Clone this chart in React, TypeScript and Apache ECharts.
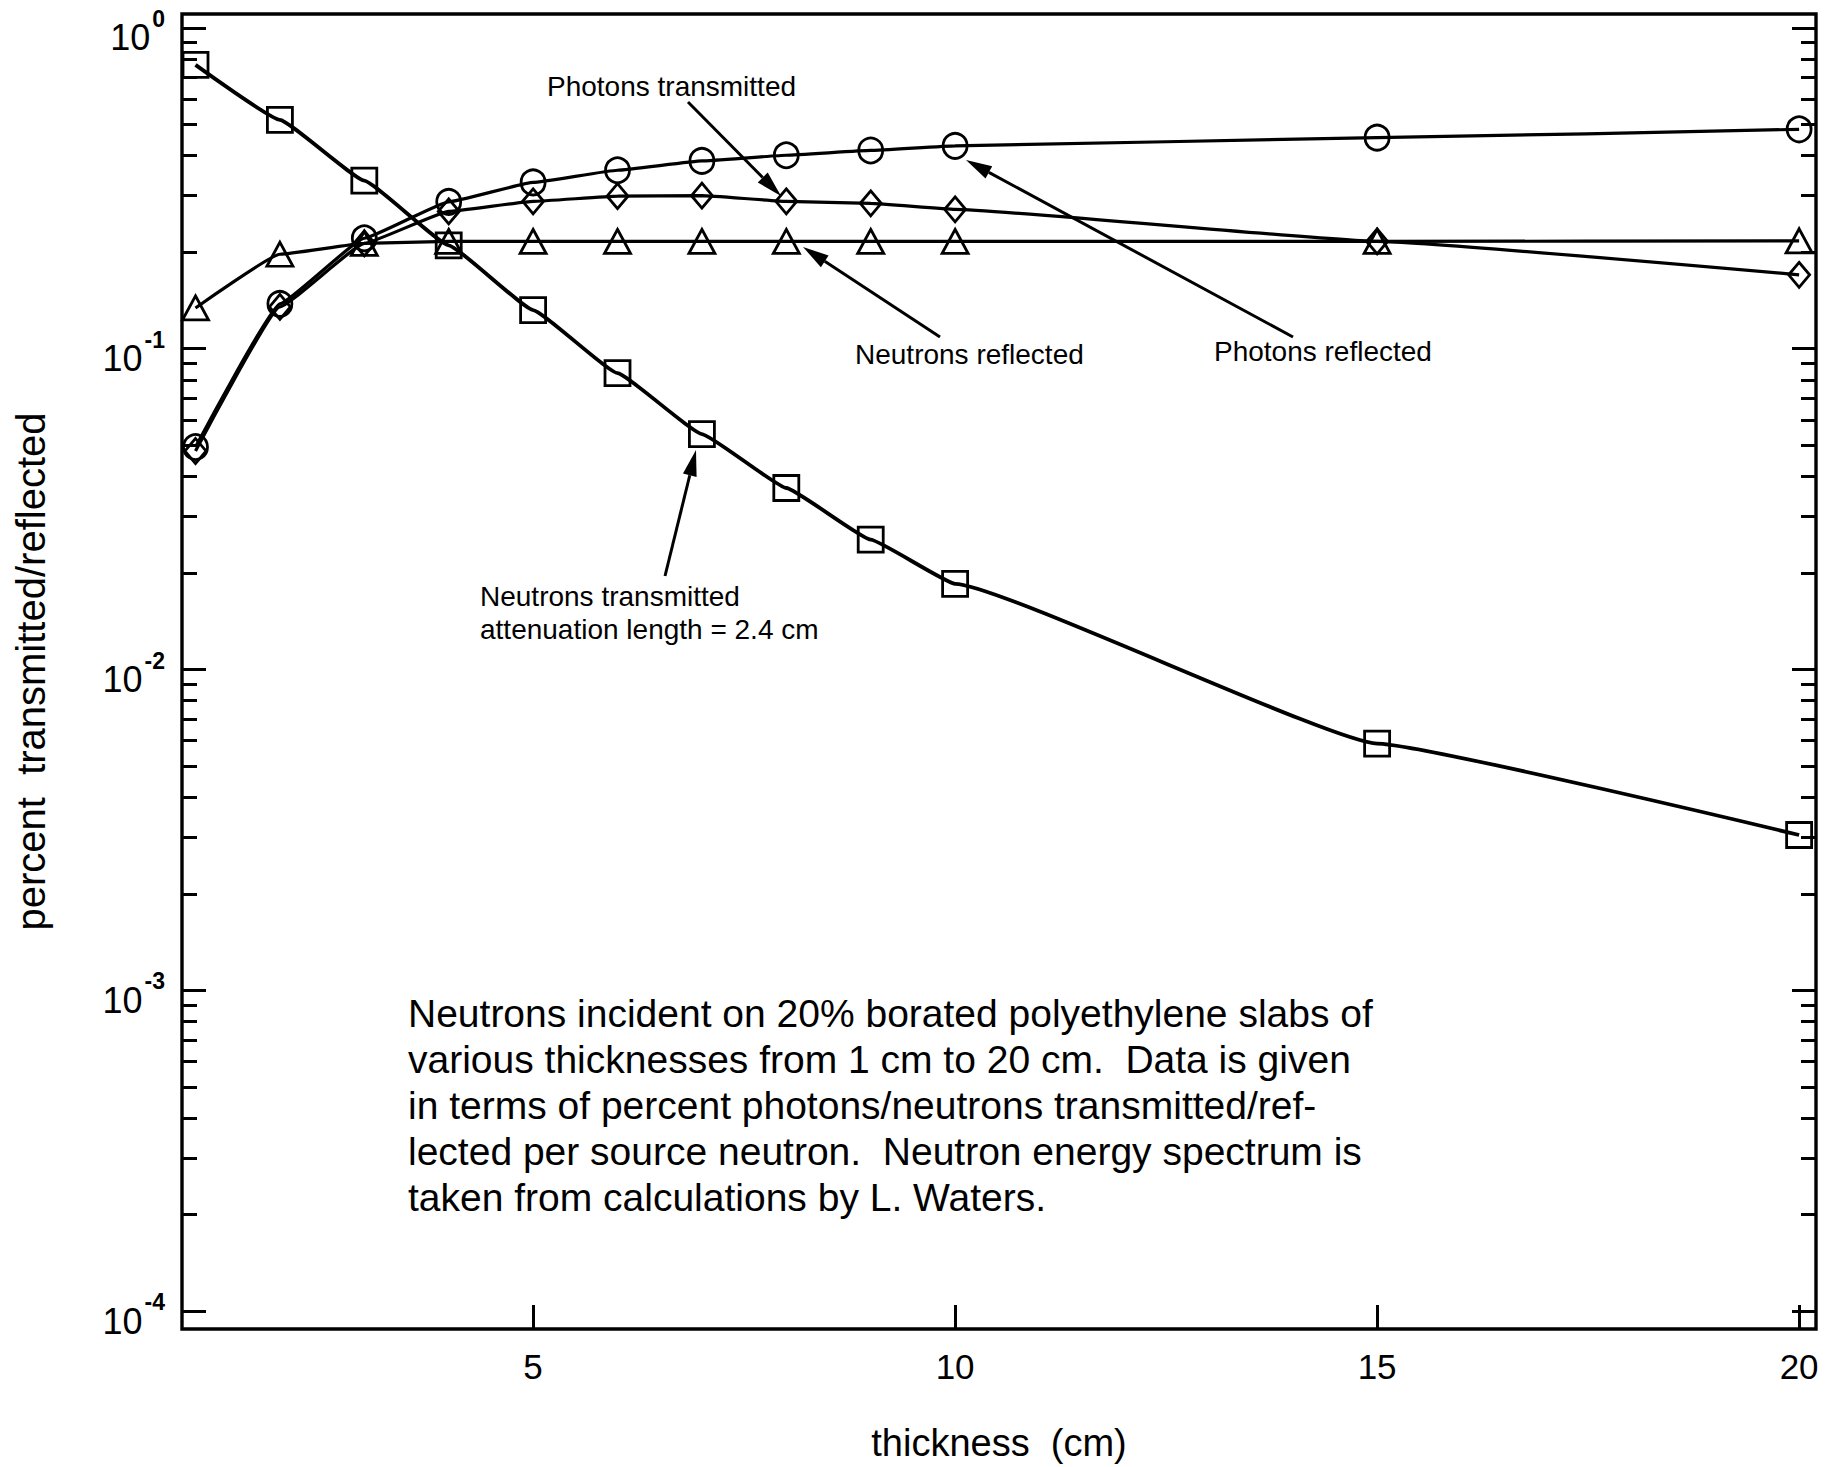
import { useEffect, useRef } from 'react';
import * as echarts from 'echarts';

// ---- data ----
const thickness = [1, 2, 3, 4, 5, 6, 7, 8, 9, 10, 15, 20];
const neutronsTransmitted = [0.767, 0.517, 0.334, 0.21, 0.132, 0.0839, 0.0542, 0.0368, 0.0254, 0.0185, 0.00588, 0.00305];
const photonsReflected = [0.0494, 0.138, 0.221, 0.287, 0.33, 0.36, 0.385, 0.401, 0.415, 0.429, 0.455, 0.483];
const photonsTransmitted = [0.048, 0.135, 0.213, 0.268, 0.288, 0.299, 0.3, 0.288, 0.284, 0.272, 0.216, 0.17];
const neutronsReflected = [0.134, 0.197, 0.213, 0.216, 0.216, 0.216, 0.216, 0.216, 0.216, 0.216, 0.216, 0.217];

const xTickValues = [5, 10, 15, 20];
const yMajorTicks = [1e-4, 1e-3, 1e-2, 1e-1, 1];
const yMinorMultipliers = [2, 3, 4, 5, 6, 7, 8, 9];
const yMinorDecades = [1e-4, 1e-3, 1e-2, 1e-1];

const xTitle = 'thickness  (cm)';
const yTitle = 'percent  transmitted/reflected';
const noteLines = [
  'Neutrons incident on 20% borated polyethylene slabs of',
  'various thicknesses from 1 cm to 20 cm.  Data is given',
  'in terms of percent photons/neutrons transmitted/ref-',
  'lected per source neutron.  Neutron energy spectrum is',
  'taken from calculations by L. Waters.',
];

// ---- layout ----
const FONT = '"Liberation Sans", Arial, Helvetica, sans-serif';
const X_MIN = 0.84;
const X_MAX = 20.2;
const Y_MIN = 8.8e-5;
const Y_MAX = 1.105;

const annotations = [
  { lines: ['Photons transmitted'], x: 547, y: 86, tail: [688, 102], tip: [781, 196] },
  { lines: ['Neutrons reflected'], x: 855, y: 354, tail: [940, 337], tip: [803, 247] },
  { lines: ['Photons reflected'], x: 1214, y: 351, tail: [1293, 337], tip: [966, 160] },
  { lines: ['Neutrons transmitted', 'attenuation length = 2.4 cm'], x: 480, y: 596, tail: [665, 576], tip: [696, 450] },
];

function arrow(tail: number[], tip: number[]) {
  const headLen = 26;
  const headHalf = 7;
  const dx = tip[0] - tail[0];
  const dy = tip[1] - tail[1];
  const L = Math.hypot(dx, dy);
  const ux = dx / L;
  const uy = dy / L;
  const bx = tip[0] - ux * headLen;
  const by = tip[1] - uy * headLen;
  const px = -uy;
  const py = ux;
  return [
    { type: 'line', shape: { x1: tail[0], y1: tail[1], x2: bx, y2: by }, style: { stroke: '#000', lineWidth: 3 } },
    {
      type: 'polygon',
      shape: { points: [[tip[0], tip[1]], [bx + px * headHalf, by + py * headHalf], [bx - px * headHalf, by - py * headHalf]] },
      style: { fill: '#000' },
    },
  ];
}

export default function App() {
  const ref = useRef<HTMLDivElement>(null);
  useEffect(() => {
    if (!ref.current) return;
    const chart = echarts.init(ref.current, undefined, { renderer: 'svg' });

    const yMinorTicks: number[] = [];
    yMinorDecades.forEach((d) => yMinorMultipliers.forEach((m) => yMinorTicks.push(+(m * d).toPrecision(3))));

    const tickLine = { color: '#000', width: 3 };
    const mkY = (position: string, major: boolean, withLabels: boolean) => ({
      type: 'log',
      logBase: 10,
      min: Y_MIN,
      max: Y_MAX,
      position,
      axisLine: { show: false },
      splitLine: { show: false },
      minorTick: { show: false },
      axisTick: {
        show: true,
        inside: true,
        length: major ? 24 : 15,
        lineStyle: tickLine,
        customValues: major ? yMajorTicks : yMinorTicks,
      },
      axisLabel: withLabels
        ? {
            show: true,
            customValues: yMajorTicks,
            margin: 17,
            formatter: (v: number) => `{b|10}{s|${Math.round(Math.log10(v))}}`,
            rich: {
              b: { fontSize: 36, fontFamily: FONT, color: '#000', padding: [20, 2, 0, 0] },
              s: { fontSize: 23, fontFamily: FONT, fontWeight: 'bold', color: '#000', padding: [0, 0, 18, 0] },
            },
          }
        : { show: false },
    });

    const mkSeries = (name: string, values: number[], symbol: string, size: number | number[], lw: number) => ({
      type: 'line',
      name,
      data: thickness.map((x, i) => [x, values[i]]),
      symbol,
      symbolSize: size,
      showAllSymbol: true,
      smooth: 0.1,
      smoothMonotone: 'x',
      lineStyle: { color: '#000', width: lw },
      itemStyle: { color: 'rgba(255,255,255,0)', borderColor: '#000', borderWidth: 2.8 },
      emphasis: { disabled: true },
      xAxisIndex: 0,
      yAxisIndex: 0,
    });

    const yAxes: any[] = [mkY('left', true, true), mkY('left', false, false), mkY('right', true, false), mkY('right', false, false)];
    yAxes[0].name = yTitle;
    yAxes[0].nameLocation = 'middle';
    yAxes[0].nameRotate = 90;
    yAxes[0].nameGap = 131;
    yAxes[0].nameTextStyle = { fontSize: 40, fontFamily: FONT, color: '#000' };

    const graphics: any[] = [];
    annotations.forEach((a) => {
      a.lines.forEach((t, i) => {
        graphics.push({
          type: 'text',
          x: a.x,
          y: a.y + i * 33,
          style: { text: t, fontSize: 28, fontFamily: FONT, fill: '#000', align: 'left', verticalAlign: 'middle' },
        });
      });
      graphics.push(...arrow(a.tail, a.tip));
    });
    noteLines.forEach((t, i) => {
      graphics.push({
        type: 'text',
        x: 408,
        y: 1013 + i * 46,
        style: { text: t, fontSize: 39, fontFamily: FONT, fill: '#000', align: 'left', verticalAlign: 'middle' },
      });
    });

    chart.setOption({
      animation: false,
      backgroundColor: '#fff',
      grid: { left: 182, right: 27, top: 14, bottom: 135, show: true, borderColor: '#000', borderWidth: 3.4, backgroundColor: 'rgba(0,0,0,0)' },
      xAxis: [
        {
          type: 'value',
          min: X_MIN,
          max: X_MAX,
          position: 'bottom',
          axisLine: { show: false },
          splitLine: { show: false },
          axisTick: { show: true, inside: true, length: 24, lineStyle: tickLine, customValues: xTickValues },
          axisLabel: { customValues: xTickValues, fontSize: 35, fontFamily: FONT, color: '#000', margin: 20 },
          name: xTitle,
          nameLocation: 'middle',
          nameGap: 95,
          nameTextStyle: { fontSize: 38, fontFamily: FONT, color: '#000' },
        },
      ],
      yAxis: yAxes,
      series: [
        mkSeries('Neutrons transmitted', neutronsTransmitted, 'rect', 25, 3.8),
        mkSeries('Photons reflected', photonsReflected, 'circle', [24, 25], 3.2),
        mkSeries('Photons transmitted', photonsTransmitted, 'diamond', [21, 25], 3.2),
        mkSeries('Neutrons reflected', neutronsReflected, 'triangle', [26, 24], 3.2),
      ],
      graphic: graphics,
    });
    return () => chart.dispose();
  }, []);
  return <div ref={ref} style={{ position: 'fixed', left: 0, top: 0, width: 1843, height: 1467 }} />;
}
